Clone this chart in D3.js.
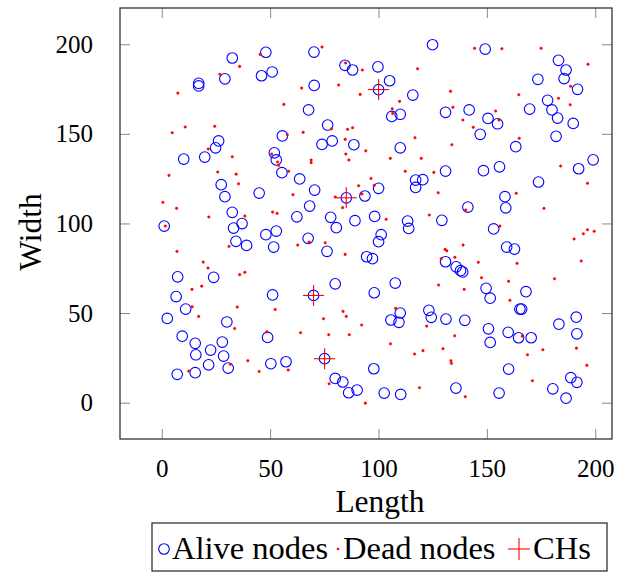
<!DOCTYPE html>
<html><head><meta charset="utf-8">
<script src="https://cdn.jsdelivr.net/npm/d3@7"></script>
<style>body{margin:0;background:#fff}svg{display:block}text{font-family:"Liberation Serif","DejaVu Serif",serif;fill:#000}</style>
</head><body>
<script>
const xTicks=[0,50,100,150,200];
const yTicks=[0,50,100,150,200];
const xLabel="Length", yLabel="Width";
const legendLabels=["Alive nodes","Dead nodes","CHs"];
const aliveX=[32.3,28.9,16.8,16.8,26.0,24.6,47.8,70.0,45.8,50.7,84.3,87.8,70.1,67.5,76.3,55.4,73.7,78.4,88.4,51.7,52.6,
124.7,149.0,99.5,104.9,99.8,115.6,105.9,109.8,130.7,141.6,150.3,146.7,109.8,
182.8,186.3,173.3,185.4,191.6,177.8,179.8,169.5,182.4,154.7,189.6,181.7,163.1,
9.9,19.6,27.2,28.9,32.3,32.9,0.9,34.0,7.1,23.7,
55.2,63.4,44.7,70.3,68.0,84.9,93.5,62.1,77.7,88.9,80.3,36.8,52.6,47.8,67.3,38.9,51.4,76.0,79.8,50.9,69.8,
130.7,148.2,116.9,120.2,116.9,99.8,141.0,98.0,129.0,113.2,113.7,101.0,99.8,130.7,135.6,137.6,138.6,94.3,97.0,107.5,97.8,149.4,
155.6,192.1,198.8,173.6,158.1,158.5,152.9,158.9,162.5,167.8,
6.4,10.8,2.3,29.8,9.2,15.2,27.7,22.3,15.5,28.3,21.4,30.4,15.2,6.9,
48.6,50.1,57.1,74.9,79.8,83.3,86.0,89.9,
109.8,105.5,109.2,123.0,124.1,130.9,139.6,97.6,102.4,110.0,135.5,
151.3,165.0,165.8,150.5,151.3,159.6,164.4,170.2,183.0,191.0,191.3,159.8,188.5,191.3,155.4,180.2,186.3];
const aliveY=[192.6,181.0,178.5,177.0,146.3,142.5,195.8,195.9,182.7,184.8,188.5,185.9,177.3,163.6,155.2,149.1,144.4,146.3,144.2,139.7,135.7,
200.0,197.6,187.7,179.9,174.9,171.9,160.0,161.2,162.3,163.6,158.9,150.0,142.5,
191.3,185.9,180.7,181.1,175.1,169.0,163.6,164.1,159.1,155.9,156.1,148.9,143.1,
136.2,137.3,121.9,115.2,106.5,97.7,98.8,90.3,70.5,70.2,
128.6,125.1,117.2,118.9,110.0,114.6,115.6,104.0,103.7,101.8,97.9,100.2,96.0,94.0,92.0,88.0,87.1,84.7,66.6,60.4,60.1,
129.5,129.7,124.5,124.7,120.4,119.9,109.4,104.2,102.0,101.6,97.5,94.0,90.1,78.9,76.1,73.9,73.2,81.7,80.6,67.0,61.6,64.1,
131.9,130.8,135.8,123.4,115.2,109.0,97.2,87.1,86.0,62.2,
59.5,52.5,47.3,45.3,37.4,33.4,34.1,29.6,27.0,26.3,21.4,19.6,17.0,16.1,
36.7,22.0,23.1,24.8,13.8,11.8,5.8,7.3,
50.3,46.4,45.1,51.8,47.9,46.9,46.2,19.2,5.6,4.9,8.4,
58.6,52.5,52.5,41.5,33.9,39.5,36.5,36.5,44.1,48.0,38.7,19.0,14.2,11.6,5.6,8.0,2.8];
const deadX=[35.7,26.6,7.2,10.6,24.2,4.6,21.2,
45.2,73.7,84.6,92.3,64.3,81.4,91.3,56.1,65.0,57.7,78.1,85.5,87.8,84.4,
144.1,117.8,133.0,109.5,106.1,106.3,134.1,138.7,143.5,116.6,133.6,93.9,
156.7,174.8,196.4,188.4,164.5,182.8,188.2,153.8,155.4,164.7,
32.3,3.1,25.6,34.1,35.2,0.3,6.6,21.5,1.4,6.8,30.8,18.9,21.1,35.7,18.2,13.7,
50.5,53.2,53.7,58.3,68.7,68.7,84.7,86.1,90.6,92.1,60.3,79.8,83.2,50.9,53.0,38.1,67.8,75.2,62.5,84.4,38.1,
105.2,119.5,112.1,125.3,96.3,97.8,127.3,123.2,103.3,140.0,130.5,131.3,138.8,135.0,128.7,145.8,147.3,127.5,139.3,
183.8,196.2,163.3,176.1,155.8,196.2,199.3,194.3,190.0,193.3,163.7,181.0,159.8,
13.8,34.6,16.8,33.4,31.4,12.2,
52.1,48.2,63.8,74.4,83.4,84.9,92.0,76.8,86.3,39.5,44.7,58.1,77.0,93.7,
107.7,122.0,134.9,105.3,116.4,120.3,129.5,133.2,133.4,118.7,139.8,
160.4,166.1,168.5,175.6,191.1,195.9,170.8];
const deadY=[187.9,183.5,173.0,154.1,154.5,150.9,141.8,
194.6,198.7,189.8,185.9,175.8,177.5,172.3,166.7,151.1,149.8,153.1,152.8,153.7,147.2,
198.0,186.6,174.0,168.4,164.3,161.7,165.1,158.0,153.9,148.1,144.2,140.8,
197.8,198.0,189.1,176.8,172.1,170.1,166.5,163.0,158.0,147.8,
137.5,127.1,129.0,127.8,122.4,112.1,108.7,103.9,98.8,84.7,87.5,78.7,75.4,71.7,65.3,63.5,
139.0,134.6,132.7,129.4,135.7,134.2,139.0,135.7,121.3,116.7,116.3,115.0,109.1,106.6,105.9,104.4,89.9,89.5,88.2,83.0,73.0,
136.6,136.6,129.4,128.8,125.4,121.5,117.4,105.0,102.6,107.8,85.8,85.0,88.2,81.4,80.6,78.6,70.0,65.9,63.5,
132.3,122.7,117.1,108.7,98.8,96.8,95.9,94.5,91.6,79.3,78.0,69.4,68.0,
53.8,53.6,48.4,41.7,21.7,17.9,
52.3,39.8,39.3,47.1,51.2,48.4,43.6,38.2,38.2,23.7,17.7,18.5,10.8,0.0,
52.9,43.0,37.6,33.1,27.4,29.3,30.4,23.7,22.2,8.6,3.6,
57.4,37.4,27.0,29.8,30.7,21.1,12.5];
const chX=[99.8,84.9,69.8,74.9];
const chY=[175.0,114.6,60.1,24.8];

const W=638,H=573;
const svg=d3.select("body").append("svg").attr("width",W).attr("height",H);
const x=d3.scaleLinear().domain([-19.5,207.5]).range([120,612]);
const y=d3.scaleLinear().domain([-20,220.5]).range([439,8]);
const FS=25, LFS=31.5;
const tl=10;
const g=svg.append("g");
xTicks.forEach(t=>{
  g.append("line").attr("x1",x(t)).attr("x2",x(t)).attr("y1",439).attr("y2",439-tl).attr("stroke","#888");
  g.append("line").attr("x1",x(t)).attr("x2",x(t)).attr("y1",8).attr("y2",8+tl).attr("stroke","#888");
  g.append("text").attr("x",x(t)).attr("y",477).attr("text-anchor","middle").attr("font-size",FS).text(t);
});
yTicks.forEach(t=>{
  g.append("line").attr("y1",y(t)).attr("y2",y(t)).attr("x1",120).attr("x2",120+tl).attr("stroke","#888");
  g.append("line").attr("y1",y(t)).attr("y2",y(t)).attr("x1",612).attr("x2",612-tl).attr("stroke","#888");
  g.append("text").attr("x",93).attr("y",y(t)+8).attr("text-anchor","end").attr("font-size",FS).text(t);
});
svg.append("rect").attr("x",120).attr("y",8).attr("width",492).attr("height",431).attr("fill","none").attr("stroke","#333").attr("stroke-width",1.3);
svg.append("text").attr("x",380).attr("y",512).attr("text-anchor","middle").attr("font-size",LFS).text(xLabel);
svg.append("text").attr("transform",`translate(41,232) rotate(-90)`).attr("text-anchor","middle").attr("font-size",LFS).text(yLabel);

const R=5.3;
svg.append("g").selectAll("circle").data(aliveX.map((v,i)=>[v,aliveY[i]])).join("circle")
 .attr("cx",d=>x(d[0])).attr("cy",d=>y(d[1])).attr("r",R).attr("fill","none").attr("stroke","#0000ff").attr("stroke-width",1.1);
svg.append("g").selectAll("circle").data(deadX.map((v,i)=>[v,deadY[i]])).join("circle")
 .attr("cx",d=>x(d[0])).attr("cy",d=>y(d[1])).attr("r",1.3).attr("fill","#ff0000").attr("stroke","#ff0000").attr("stroke-width",0.4);
const CHS=10.5;
const chG=svg.append("g").attr("stroke","#ff0000").attr("stroke-width",1.1);
chX.forEach((v,i)=>{
  const cx=x(v),cy=y(chY[i]);
  chG.append("line").attr("x1",cx-CHS).attr("x2",cx+CHS).attr("y1",cy).attr("y2",cy);
  chG.append("line").attr("x1",cx).attr("x2",cx).attr("y1",cy-CHS).attr("y2",cy+CHS);
});
// legend
const lg=svg.append("g");
lg.append("rect").attr("x",152).attr("y",523).attr("width",455).attr("height",48).attr("fill","#fff").attr("stroke","#333").attr("stroke-width",1.3);
const ly=549;
lg.append("circle").attr("cx",164).attr("cy",ly).attr("r",R).attr("fill","none").attr("stroke","#0000ff").attr("stroke-width",1.1);
lg.append("text").attr("x",172).attr("y",ly+10).attr("font-size",32.5).text(legendLabels[0]);
lg.append("circle").attr("cx",338).attr("cy",ly).attr("r",1.3).attr("fill","#ff0000");
lg.append("text").attr("x",343).attr("y",ly+10).attr("font-size",32.5).text(legendLabels[1]);
lg.append("line").attr("x1",508).attr("x2",530).attr("y1",ly).attr("y2",ly).attr("stroke","#ff0000").attr("stroke-width",1.1);
lg.append("line").attr("x1",519).attr("x2",519).attr("y1",ly-11).attr("y2",ly+11).attr("stroke","#ff0000").attr("stroke-width",1.1);
lg.append("text").attr("x",533).attr("y",ly+10).attr("font-size",32.5).text(legendLabels[2]);
</script>
</body></html>
